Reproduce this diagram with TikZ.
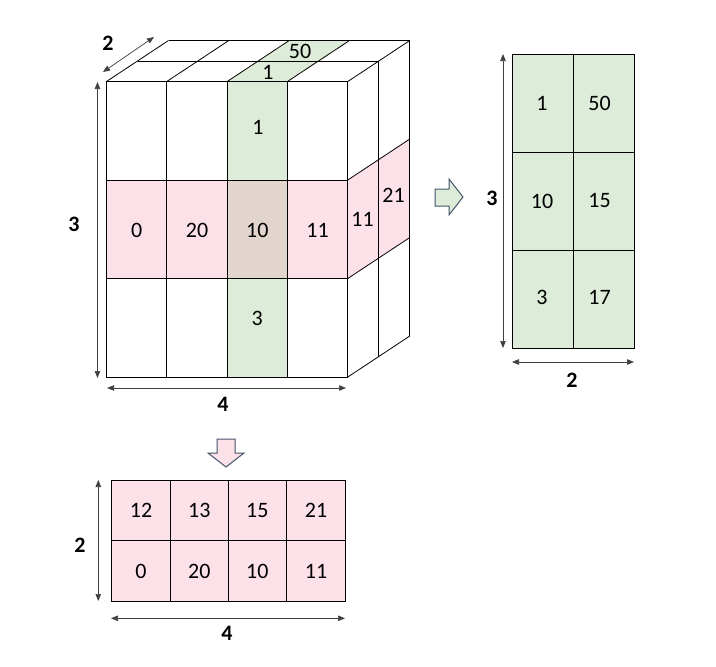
\documentclass[tikz,border=0pt]{standalone}
\usepackage{fontspec}
\setmainfont{Carlito}
\usetikzlibrary{arrows.meta}
\definecolor{pinkc}{HTML}{FDE1E9}
\definecolor{greenc}{HTML}{DDEBD9}
\definecolor{mixc}{HTML}{E1D5CD}
\definecolor{arrowline}{HTML}{44546A}
\definecolor{dimc}{HTML}{404040}
\tikzset{
  grid/.style={draw=black, line width=0.8pt},
  num/.style={font=\fontsize{22}{26}\selectfont, inner sep=0pt},
  dimlabel/.style={font=\bfseries\fontsize{22}{26}\selectfont, inner sep=0pt},
  dimarrow/.style={draw=dimc, line width=0.7pt, {Triangle[width=5.5pt,length=7pt]}-{Triangle[width=5.5pt,length=7pt]}},
  blockarrow/.style={draw=arrowline, line width=1pt, line join=miter},
}
\begin{document}
\begin{tikzpicture}[x=1pt,y=-1pt]
\useasboundingbox (0,0) rectangle (716,667);
\fill[white] (0,0) rectangle (716,667);
% ---------- cube ----------
\def\xa{106.5}\def\xb{166.8}\def\xc{227.2}\def\xd{287.5}\def\xe{347.8}
\def\ya{81.5}\def\yb{180}\def\yc{278.5}\def\yd{377}
\def\dx{31}\def\dy{20.5}
% front fills
\fill[pinkc] (\xa,\yb) rectangle (\xe,\yc);
\fill[greenc] (\xc,\ya) rectangle (\xd,\yd);
\fill[mixc] (\xc,\yb) rectangle (\xd,\yc);
% top green
\fill[greenc] (\xc,\ya) -- (\xd,\ya) -- (\xd+2*\dx,\ya-2*\dy) -- (\xc+2*\dx,\ya-2*\dy) -- cycle;
% right pink
\fill[pinkc] (\xe,\yb) -- (\xe+2*\dx,\yb-2*\dy) -- (\xe+2*\dx,\yc-2*\dy) -- (\xe,\yc) -- cycle;
% front grid
\draw[grid] (\xa,\ya) rectangle (\xe,\yd);
\foreach \x in {\xb,\xc,\xd} \draw[grid] (\x,\ya) -- (\x,\yd);
\foreach \y in {\yb,\yc} \draw[grid] (\xa,\y) -- (\xe,\y);
% top grid
\foreach \x in {\xa,\xb,\xc,\xd,\xe} \draw[grid] (\x,\ya) -- (\x+2*\dx,\ya-2*\dy);
\foreach \k in {1,2} \draw[grid] (\xa+\k*\dx,\ya-\k*\dy) -- (\xe+\k*\dx,\ya-\k*\dy);
% right grid
\foreach \y in {\yb,\yc,\yd} \draw[grid] (\xe,\y) -- (\xe+2*\dx,\y-2*\dy);
\foreach \k in {1,2} \draw[grid] (\xe+\k*\dx,\ya-\k*\dy) -- (\xe+\k*\dx,\yd-\k*\dy);
% cube labels
\node[num] (f1) at (258,127) {1};
\node[num] (f0) at (136.6,230) {0};
\node[num] (f20) at (197,230) {20};
\node[num] (f10) at (257.3,230) {10};
\node[num] (f11) at (317.6,230) {11};
\node[num] (f3) at (257.3,318) {3};
\node[num] (t1) at (268,72) {1};
\node[num] (t50) at (300,51) {50};
\node[num] (r11) at (362.5,219) {11};
\node[num] (r21) at (393.5,195) {21};
% cube dimensions
\coordinate (d2a) at (103,72);
\coordinate (d2b) at (154,37);
\draw[dimarrow] (d2a) -- (d2b);
\node[dimlabel] (l2) at (108,43) {2};
\coordinate (d3a) at (97.5,82);
\coordinate (d3b) at (97.5,378);
\draw[dimarrow] (d3a) -- (d3b);
\node[dimlabel] (l3) at (74,224) {3};
\coordinate (d4a) at (107,388);
\coordinate (d4b) at (346,388);
\draw[dimarrow] (d4a) -- (d4b);
\node[dimlabel] (l4) at (223,404) {4};
% ---------- right arrow ----------
\draw[blockarrow, fill=greenc] (435,189) -- (449,189) -- (449,179) -- (463,197) -- (449,215) -- (449,206) -- (435,206) -- cycle;
% ---------- right block ----------
\fill[greenc] (512.3,54) rectangle (634,348);
\draw[grid] (512.3,54) rectangle (634,348);
\draw[grid] (573,54) -- (573,348);
\draw[grid] (512.3,152.7) -- (634,152.7);
\draw[grid] (512.3,250.3) -- (634,250.3);
\node[num] (g1) at (542,103) {1};
\node[num] (g50) at (599.5,103) {50};
\node[num] (g10) at (542,201.5) {10};
\node[num] (g15) at (599.5,200) {15};
\node[num] (g3) at (542,297) {3};
\node[num] (g17) at (599.5,297) {17};
\coordinate (e3a) at (503,54);
\coordinate (e3b) at (503,348);
\draw[dimarrow] (e3a) -- (e3b);
\node[dimlabel] (m3) at (492,198) {3};
\coordinate (e2a) at (512,362);
\coordinate (e2b) at (634,362);
\draw[dimarrow] (e2a) -- (e2b);
\node[dimlabel] (m2) at (572,380) {2};
% ---------- down arrow ----------
\draw[blockarrow, fill=pinkc] (217,439) -- (235,439) -- (235,453) -- (244,453) -- (226,467) -- (208,453) -- (217,453) -- cycle;
% ---------- bottom block ----------
\fill[pinkc] (111,480) rectangle (345.3,601.3);
\draw[grid] (111,480) rectangle (345.3,601.3);
\foreach \x in {170.7,228,286.7} \draw[grid] (\x,480) -- (\x,601.3);
\draw[grid] (111,540.7) -- (345.3,540.7);
\node[num] (p12) at (141,510) {12};
\node[num] (p13) at (199.3,510) {13};
\node[num] (p15) at (257.3,510) {15};
\node[num] (p21) at (316,510) {21};
\node[num] (p0) at (141,571) {0};
\node[num] (p20) at (199.3,571) {20};
\node[num] (p10) at (257.3,571) {10};
\node[num] (p11) at (316,571) {11};
\coordinate (h2a) at (98.3,480);
\coordinate (h2b) at (98.3,601);
\draw[dimarrow] (h2a) -- (h2b);
\node[dimlabel] (n2) at (80,545) {2};
\coordinate (h4a) at (111,618.3);
\coordinate (h4b) at (345,618.3);
\draw[dimarrow] (h4a) -- (h4b);
\node[dimlabel] (n4) at (227,633) {4};
\end{tikzpicture}
\end{document}
